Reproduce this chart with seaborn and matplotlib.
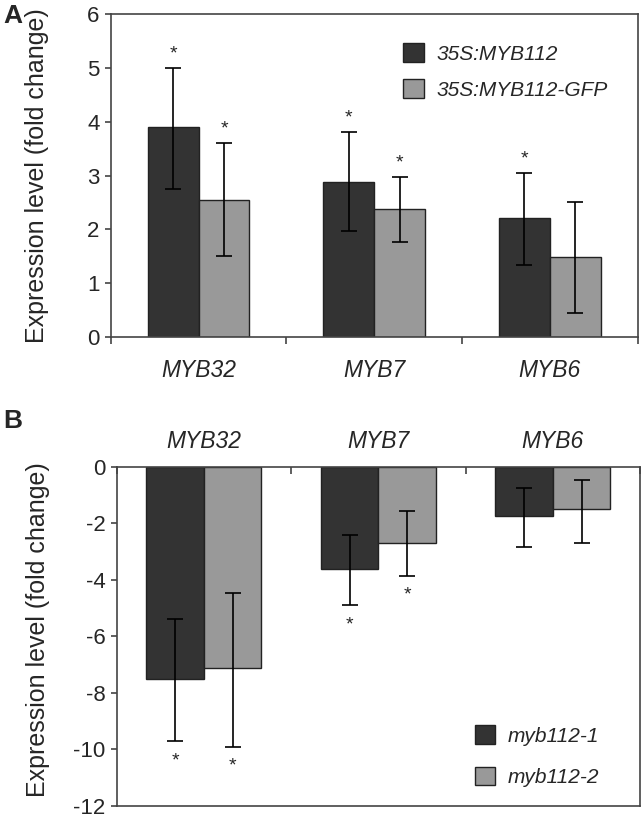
import numpy as np
import pandas as pd
import seaborn as sns
import matplotlib
matplotlib.use('Agg')
import matplotlib.pyplot as plt
import matplotlib.patches as mpatches

genes = ['MYB32', 'MYB7', 'MYB6']

# panel A: overexpression lines
oe_lines = ['35S:MYB112', '35S:MYB112-GFP']
oe_mean_1 = [3.9, 2.88, 2.22]
oe_lo_1 = [2.75, 1.97, 1.33]
oe_hi_1 = [5.0, 3.8, 3.05]
oe_sig_1 = [True, True, True]
oe_mean_2 = [2.55, 2.37, 1.49]
oe_lo_2 = [1.5, 1.77, 0.45]
oe_hi_2 = [3.6, 2.97, 2.5]
oe_sig_2 = [True, True, False]

# panel B: mutants
mut_lines = ['myb112-1', 'myb112-2']
mut_mean_1 = [-7.5, -3.6, -1.75]
mut_lo_1 = [-9.7, -4.9, -2.82]
mut_hi_1 = [-5.4, -2.4, -0.75]
mut_sig_1 = [True, True, False]
mut_mean_2 = [-7.1, -2.7, -1.5]
mut_lo_2 = [-9.9, -3.85, -2.7]
mut_hi_2 = [-4.45, -1.57, -0.45]
mut_sig_2 = [True, True, False]

dark = '#333333'
light = '#999999'
spine_col = '#444444'

sns.set_style('white')
plt.rcParams['font.family'] = ['Liberation Sans', 'DejaVu Sans']
plt.rcParams['axes.unicode_minus'] = False


def bar_panel(ax, lines, means, los, his, sigs, width, up):
    df = pd.DataFrame({'gene': genes * 2,
                       'line': np.repeat(lines, len(genes)),
                       'value': means[0] + means[1]})
    sns.barplot(data=df, x='gene', y='value', hue='line', order=genes,
                hue_order=lines, palette=[dark, light], saturation=1,
                width=width, gap=0, edgecolor='#222222', linewidth=1,
                errorbar=None, legend=False, ax=ax)
    for cont, m, lo, hi, sig in zip(ax.containers, means, los, his, sigs):
        xs = [b.get_x() + b.get_width() / 2 for b in cont]
        m = np.array(m)
        ax.errorbar(xs, m, yerr=[m - np.array(lo), np.array(hi) - m],
                    fmt='none', ecolor='black', elinewidth=1.2,
                    capsize=6, capthick=1.2)
        for x, l, h, s in zip(xs, lo, hi, sig):
            if not s:
                continue
            if up:
                ax.annotate('*', (x, h), xytext=(0, 4), textcoords='offset points',
                            ha='center', va='bottom', fontsize=14)
            else:
                ax.annotate('*', (x, l), xytext=(0, -8), textcoords='offset points',
                            ha='center', va='top', fontsize=14)
    for s in ax.spines.values():
        s.set_visible(True)
        s.set_color(spine_col)
        s.set_linewidth(1.2)
    ax.set_xlim(-0.5, 2.5)
    ax.set_xlabel('')
    ax.set_ylabel('Expression level (fold change)', fontsize=18)
    ax.tick_params(axis='y', which='major', left=True, length=4, width=1.2,
                   color=spine_col, labelsize=16, pad=4)
    # category boundary ticks
    ax.set_xticks([-0.5, 0.5, 1.5, 2.5], minor=True)
    ax.tick_params(axis='x', which='major', length=0, labelsize=16.5, pad=16)
    handles = [mpatches.Patch(facecolor=c, edgecolor='#222222', linewidth=1, label=l)
               for c, l in zip([dark, light], lines)]
    return handles


fig = plt.figure(figsize=(6.44, 8.19), dpi=100)
axA = fig.add_axes([0.172, 0.5885, 0.818, 0.3944])
axB = fig.add_axes([0.181, 0.016, 0.813, 0.4138])

hA = bar_panel(axA, oe_lines, [oe_mean_1, oe_mean_2], [oe_lo_1, oe_lo_2],
               [oe_hi_1, oe_hi_2], [oe_sig_1, oe_sig_2], 0.58, True)
axA.set_ylim(0, 6)
axA.set_yticks(range(0, 7))
axA.tick_params(axis='x', which='minor', bottom=True, direction='out', length=5,
                width=1.2, color=spine_col)
axA.yaxis.set_label_coords(-0.118, 0.5)
axA.legend(handles=hA, loc='upper left', bbox_to_anchor=(0.52, 0.968),
           frameon=False, handlelength=1.0, handleheight=1.0,
           handletextpad=0.6, labelspacing=0.75, prop={'size': 15, 'style': 'italic'})

hB = bar_panel(axB, mut_lines, [mut_mean_1, mut_mean_2], [mut_lo_1, mut_lo_2],
               [mut_hi_1, mut_hi_2], [mut_sig_1, mut_sig_2], 0.66, False)
axB.set_ylim(-12, 0)
axB.set_yticks(range(-12, 1, 2))
axB.xaxis.tick_top()
axB.tick_params(axis='x', which='major', length=0, pad=10)
axB.tick_params(axis='x', which='minor', top=True, bottom=False, direction='in',
                length=5, width=1.2, color=spine_col)
axB.yaxis.set_label_coords(-0.128, 0.52)
axB.legend(handles=hB, loc='lower left', bbox_to_anchor=(0.648, 0.0),
           frameon=False, handlelength=1.0, handleheight=1.0,
           handletextpad=0.6, labelspacing=1.0, prop={'size': 15, 'style': 'italic'})

for ax in (axA, axB):
    for lab in ax.get_xticklabels():
        lab.set_fontstyle('italic')

fig.text(0.005, 0.995, 'A', fontsize=19, fontweight='bold', va='top')
fig.text(0.005, 0.5, 'B', fontsize=19, fontweight='bold', va='top')

fig.savefig('out.png', dpi=100)
